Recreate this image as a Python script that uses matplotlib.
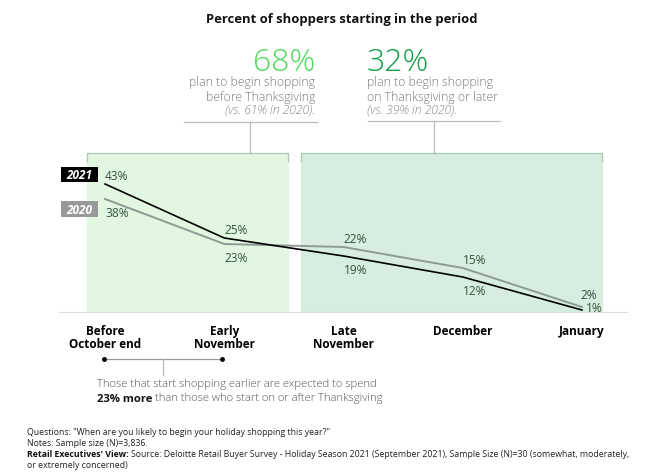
import matplotlib.pyplot as plt
from matplotlib.patches import Rectangle

plt.rcParams['font.family'] = ['Open Sans', 'DejaVu Sans']

categories = ['Before\nOctober end', 'Early\nNovember', 'Late\nNovember', 'December', 'January']
y2021 = [43, 25, 19, 12, 1]
y2020 = [38, 23, 22, 15, 2]
label_pos_2021 = ['above', 'above', 'below', 'below', 'below']

fig = plt.figure(figsize=(6.66, 4.77), dpi=100)
W, H = 666, 477


def fx(px):
    return px / W


def fy(py):
    return 1 - py / H


ax = fig.add_axes([fx(59), fy(314), fx(628) - fx(59), (314 - 154) / H])
x = list(range(len(categories)))
ax.set_xlim(-0.386, 4.386)
ax.set_ylim(0, 53.33)

# shaded periods
ax.axvspan(-0.151, 1.535, color='#e2f7e2', zorder=0)
ax.axvspan(1.644, 4.168, color='#d6ede0', zorder=0)
for a, b in [(-0.151, 1.535), (1.644, 4.168)]:
    ax.plot([a, a, b, b], [50.5, 53.2, 53.2, 50.5], color='#a9c9b2', lw=0.9,
            clip_on=False, zorder=1)

ax.plot(x, y2020, color='#8d9c93', lw=1.4, zorder=3)
ax.plot(x, y2021, color='black', lw=1.2, zorder=4)

lab_c = '#35533f'
lab_fs = 8.6
last = len(x) - 1
for i in range(len(x)):
    if i == last:
        ax.annotate(f'{y2020[i]}%', (x[i], y2020[i]), xytext=(5, 9), textcoords='offset points',
                    ha='center', va='center', fontsize=lab_fs, color=lab_c)
        ax.annotate(f'{y2021[i]}%', (x[i], y2021[i]), xytext=(9, 2), textcoords='offset points',
                    ha='center', va='center', fontsize=lab_fs, color=lab_c)
        continue
    if label_pos_2021[i] == 'above':
        up, down = y2021[i], y2020[i]
    else:
        up, down = y2020[i], y2021[i]
    ax.annotate(f'{up}%', (x[i], up), xytext=(0, 6), textcoords='offset points',
                ha='left', va='center', fontsize=lab_fs, color=lab_c)
    ax.annotate(f'{down}%', (x[i], down), xytext=(0, -10), textcoords='offset points',
                ha='left', va='center', fontsize=lab_fs, color=lab_c)

ax.axhline(0, color='#dddddd', lw=1.5, zorder=2)
for s in ax.spines.values():
    s.set_visible(False)
ax.set_yticks([])
ax.set_xticks(x)
ax.set_xticklabels(categories, fontsize=8.5, fontweight='bold', linespacing=1.0)
ax.tick_params(axis='x', length=0, pad=8)

# year tags
fig.add_artist(Rectangle((fx(61), fy(183)), fx(37), 15 / H, fc='black', ec='none'))
fig.add_artist(Rectangle((fx(61), fy(218)), fx(37), 16 / H, fc='#999999', ec='none'))
fig.text(fx(79.5), fy(175.5), '2021', ha='center', va='center', fontsize=8.5, color='white',
         style='italic', fontweight='bold')
fig.text(fx(79.5), fy(210), '2020', ha='center', va='center', fontsize=8.5, color='white',
         style='italic', fontweight='bold')

# title
fig.text(fx(342), fy(20), 'Percent of shoppers starting in the period', ha='center', va='center',
         fontsize=9.4, fontweight='bold', color='#111111')

# callouts
fig.text(fx(315), fy(63), '68%', ha='right', va='center', fontsize=23, color='#4ddb5a',
         fontweight='light')
fig.text(fx(315), fy(90), 'plan to begin shopping\nbefore Thanksgiving', ha='right', va='center',
         fontsize=8.7, color='#777777', fontweight='light', linespacing=1.2)
fig.text(fx(315), fy(110), '(vs. 61% in 2020).', ha='right', va='center', fontsize=8.7,
         color='#888888', style='italic', fontweight='light')
fig.text(fx(367), fy(63), '32%', ha='left', va='center', fontsize=23, color='#11a045',
         fontweight='light')
fig.text(fx(367), fy(90), 'plan to begin shopping\non Thanksgiving or later', ha='left', va='center',
         fontsize=8.7, color='#777777', fontweight='light', linespacing=1.2)
fig.text(fx(367), fy(110), '(vs. 39% in 2020).', ha='left', va='center', fontsize=8.7,
         color='#888888', style='italic', fontweight='light')

ln = dict(color='#bbbbbb', lw=0.9)
fig.add_artist(plt.Line2D([fx(184), fx(317)], [fy(123), fy(123)], **ln))
fig.add_artist(plt.Line2D([fx(250), fx(250)], [fy(123), fy(154)], **ln))
fig.add_artist(plt.Line2D([fx(368), fx(500)], [fy(122), fy(122)], **ln))
fig.add_artist(plt.Line2D([fx(434), fx(434)], [fy(122), fy(154)], **ln))

# bottom bracket
fig.add_artist(plt.Line2D([fx(104), fx(222)], [fy(360), fy(360)], color='#999999', lw=0.9,
                          marker='o', markersize=2.5, markevery=[0, 1], mfc='black', mec='black'))
fig.add_artist(plt.Line2D([fx(163), fx(163)], [fy(360), fy(376)], color='#bbbbbb', lw=0.9))
fig.text(fx(97), fy(385), 'Those that start shopping earlier are expected to spend', ha='left',
         va='center', fontsize=8.1, color='#555555', fontweight='light')
t1 = fig.text(fx(97), fy(399), '23% more', ha='left', va='center', fontsize=8.1,
              color='#111111', fontweight='bold')
fig.canvas.draw()
bb = t1.get_window_extent()
fig.text(bb.x1 / W + 0.004, fy(399), 'than those who start on or after Thanksgiving', ha='left',
         va='center', fontsize=8.1, color='#555555', fontweight='light')

# footnotes
fs = 6.3
fig.text(fx(27), fy(433), 'Questions: "When are you likely to begin your holiday shopping this year?"',
         fontsize=fs, va='center', color='#222222')
fig.text(fx(27), fy(444), 'Notes: Sample size (N)=3,836.', fontsize=fs, va='center', color='#222222')
t2 = fig.text(fx(27), fy(455), "Retail Executives' View:", fontsize=fs, va='center',
              color='#111111', fontweight='bold')
fig.canvas.draw()
bb = t2.get_window_extent()
fig.text(bb.x1 / W + 0.003, fy(455),
         'Source: Deloitte Retail Buyer Survey - Holiday Season 2021 (September 2021), '
         'Sample Size (N)=30 (somewhat, moderately,', fontsize=fs, va='center', color='#222222')
fig.text(fx(27), fy(466), 'or extremely concerned)', fontsize=fs, va='center', color='#222222')

fig.savefig('out.png', dpi=100)
